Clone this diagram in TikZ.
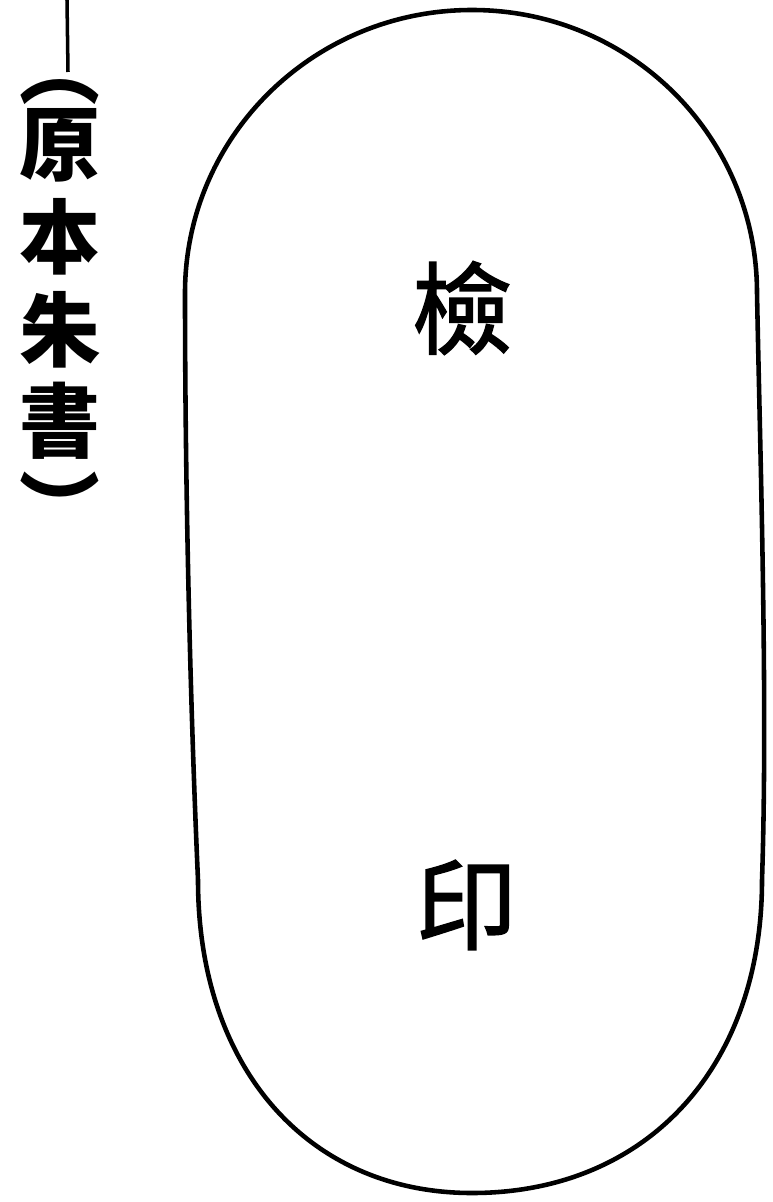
\documentclass[tikz,border=0pt]{standalone}
\usepackage{fontspec}
\newfontfamily\cjk{Noto Sans CJK TC}
\newfontfamily\cjkstamp[FakeBold=1.6]{Noto Sans CJK TC}
\begin{document}
\begin{tikzpicture}[x=0.02cm,y=-0.02cm,
	stamp/.style={inner sep=0pt, font=\cjkstamp\fontsize{57}{57}\selectfont},
	note/.style={inner sep=0pt, font=\cjk\bfseries\fontsize{46}{46}\selectfont}]
	\useasboundingbox (0,0) rectangle (772,1202);

	% outline of the seal field
	\draw[line width=2.6pt] (472,10)
		.. controls (631,10) and (757,137) .. (757,293)
		.. controls (760,450) and (768,700) .. (762,880)
		.. controls (762,1068) and (646,1193) .. (472,1193)
		.. controls (308,1193) and (198,1068) .. (198,880)
		.. controls (190,700) and (185,480) .. (185,293)
		.. controls (185,137) and (313,10) .. (472,10) -- cycle;

	\node (ken)	at (462,308)	[stamp]{檢};
	\node (in)	at (466,905)	[stamp]{印};

	% note on the left, set top to bottom
	\coordinate (linetop)	at (67,0);
	\coordinate (linebot)	at (68,72);
	\draw[line width=2pt] (linetop) -- (linebot);

	\node (lpar)	at (60,92)	[note]{︵};
	\node (gen)	at (60,145)	[note]{原};
	\node (hon)	at (60,237)	[note]{本};
	\node (shu)	at (60,330)	[note]{朱};
	\node (sho)	at (60,421)	[note]{書};
	\node (rpar)	at (60,506)	[note]{︶};

\end{tikzpicture}
\end{document}
